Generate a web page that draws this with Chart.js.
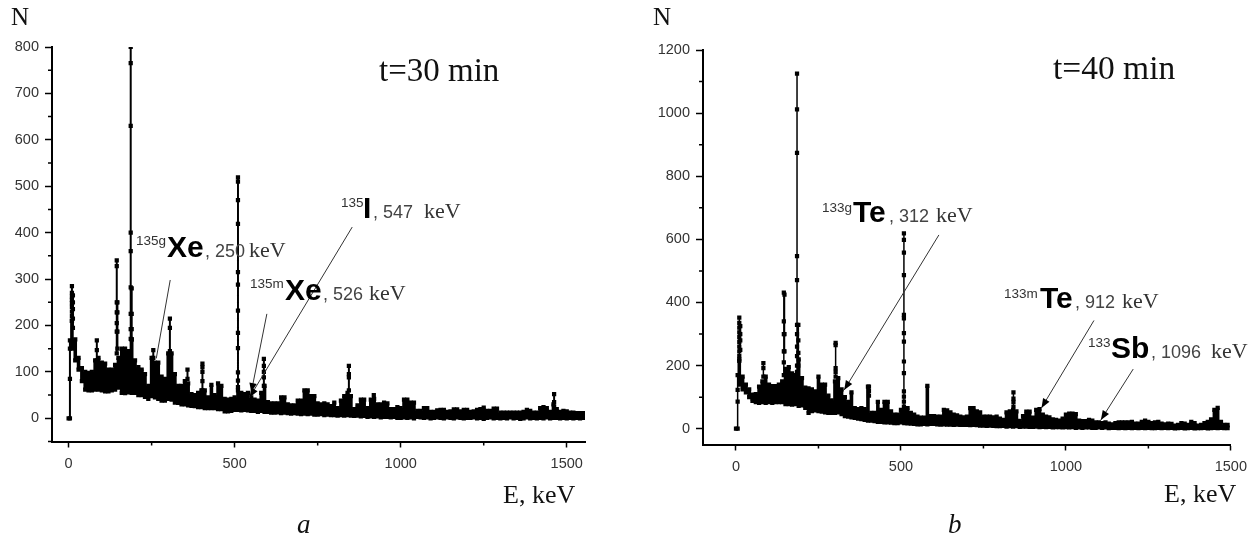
<!DOCTYPE html>
<html>
<head>
<meta charset="utf-8">
<title>Gamma spectra</title>
<script src="https://cdn.jsdelivr.net/npm/chart.js@4"></script>
<style>
  html, body { margin: 0; padding: 0; background: #fff; }
  canvas { position: absolute; top: 0; }
  #panelA { left: 0; }
  #panelB { left: 627px; }
</style>
</head>
<body>
<canvas id="panelA" width="627" height="539"></canvas>
<canvas id="panelB" width="628" height="539"></canvas>
<script>
// Energy of each column in the dense background of the spectra, keV
const bandEnergies = [
  10, 20, 30, 40, 50, 60, 70, 80, 90, 100,
  110, 120, 130, 140, 150, 160, 170, 180, 190, 200,
  210, 220, 230, 240, 250, 260, 270, 280, 290, 300,
  310, 320, 330, 340, 350, 360, 370, 380, 390, 400,
  410, 420, 430, 440, 450, 460, 470, 480, 490, 500,
  510, 520, 530, 540, 550, 560, 570, 580, 590, 600,
  610, 620, 630, 640, 650, 660, 670, 680, 690, 700,
  710, 720, 730, 740, 750, 760, 770, 780, 790, 800,
  810, 820, 830, 840, 850, 860, 870, 880, 890, 900,
  910, 920, 930, 940, 950, 960, 970, 980, 990, 1000,
  1010, 1020, 1030, 1040, 1050, 1060, 1070, 1080, 1090, 1100,
  1110, 1120, 1130, 1140, 1150, 1160, 1170, 1180, 1190, 1200,
  1210, 1220, 1230, 1240, 1250, 1260, 1270, 1280, 1290, 1300,
  1310, 1320, 1330, 1340, 1350, 1360, 1370, 1380, 1390, 1400,
  1410, 1420, 1430, 1440, 1450, 1460, 1470, 1480, 1490, 1500,
  1510, 1520, 1530, 1540, 1550
];

// Axis tick labels
const xTickValues = [0, 500, 1000, 1500];
const yTickValuesA = [0, 100, 200, 300, 400, 500, 600, 700, 800];
const yTickValuesB = [0, 200, 400, 600, 800, 1000, 1200];

// Panel a: top and bottom of the background per column
const bandHighA = [
  210, 170, 130, 108, 100, 98, 100, 125, 130, 120,
  118, 105, 105, 115, 130, 150, 150, 145, 170, 125,
  110, 105, 95, 70, 130, 120, 120, 90, 85, 140,
  140, 95, 70, 70, 80, 75, 52, 50, 55, 60,
  60, 45, 72, 50, 75, 70, 42, 40, 42, 45,
  60, 55, 52, 55, 45, 40, 38, 55, 70, 35,
  32, 32, 32, 45, 45, 30, 28, 28, 38, 38,
  60, 60, 48, 48, 32, 30, 32, 30, 26, 34,
  22, 38, 48, 55, 48, 20, 28, 40, 40, 22,
  40, 42, 30, 30, 34, 32, 20, 20, 24, 22,
  40, 40, 34, 34, 16, 16, 22, 22, 14, 14,
  17, 18, 18, 14, 15, 19, 19, 15, 18, 18,
  14, 15, 18, 20, 23, 16, 16, 21, 21, 12,
  12, 12, 12, 12, 12, 12, 14, 18, 16, 12,
  12, 22, 24, 22, 14, 30, 20, 14, 16, 15,
  12, 12, 11, 11, 11
];
const bandLowA = [
  150, 125, 105, 80, 62, 60, 60, 62, 62, 60,
  58, 58, 60, 62, 66, 55, 54, 56, 55, 55,
  50, 50, 46, 42, 48, 45, 42, 38, 38, 42,
  40, 34, 33, 30, 30, 28, 27, 26, 24, 24,
  22, 22, 22, 22, 20, 20, 15, 15, 16, 18,
  18, 17, 18, 17, 16, 16, 14, 16, 14, 14,
  12, 12, 13, 11, 12, 11, 10, 11, 10, 9,
  10, 9, 10, 8, 8, 9, 7, 8, 7, 7,
  6, 7, 6, 7, 6, 5, 6, 4, 5, 3,
  4, 3, 4, 2, 3, 3, 2, 3, 1, 1,
  2, 1, 2, 0, 3, 2, 1, 2, 0, 1,
  2, 1, 0, 2, 1, 0, 2, 1, 0, 1,
  1, 2, 0, 1, -1, 1, 2, 0, 1, 0,
  1, 0, 2, 0, 1, -1, 0, 2, 0, 1,
  0, 1, 0, 2, 0, 1, 1, 0, 1, 0,
  1, 0, 1, 0, 1
];

// Panel a: peaks that stand out of the background
const peakEnergiesA = [0, 4, 10, 13, 85, 145, 147, 187, 190, 255, 305, 358, 403, 510, 588, 844, 919, 1462];
const peakCountsA = [
  [0],
  [0, 85, 150, 168],
  [285, 270, 262, 255, 248, 240, 230, 220, 210],
  [265, 250, 235, 215, 195],
  [168, 147, 125],
  [340, 328, 250, 228, 205, 187, 140],
  [250, 228, 187, 150],
  [800, 765, 630, 400, 360, 282, 225, 192, 171, 135, 117],
  [280, 225, 192, 170],
  [147, 130, 110],
  [215, 195, 145, 140, 120],
  [105, 85],
  [118, 110, 100, 80, 60],
  [519, 510, 470, 419, 315, 288, 232, 184, 151, 99, 81, 67],
  [128, 113, 100, 88, 70],
  [113, 95, 88, 60],
  [50, 38],
  [52, 35, 25]
];

// Panel b: top and bottom of the background per column
const bandHighB = [
  220, 165, 140, 125, 108, 110, 133, 150, 165, 140,
  135, 135, 140, 150, 190, 195, 175, 170, 220, 160,
  130, 128, 125, 118, 165, 140, 140, 105, 90, 150,
  160, 125, 100, 85, 115, 65, 62, 65, 62, 133,
  50, 50, 85, 60, 85, 85, 55, 45, 45, 60,
  65, 65, 50, 45, 38, 35, 35, 136, 40, 40,
  38, 38, 60, 58, 52, 45, 42, 38, 36, 38,
  65, 65, 55, 52, 38, 38, 38, 36, 38, 32,
  28, 52, 55, 60, 55, 25, 40, 54, 54, 35,
  60, 62, 45, 38, 36, 30, 28, 26, 32, 45,
  48, 48, 46, 26, 24, 24, 28, 26, 20, 20,
  18, 20, 16, 14, 18, 20, 20, 20, 20, 22,
  16, 16, 22, 26, 22, 18, 20, 22, 16, 14,
  16, 15, 10, 12, 18, 16, 12, 22, 18, 10,
  12, 18, 22, 30, 60, 66, 22, 12, 12
];
const bandLowB = [
  140, 125, 115, 100, 88, 84, 82, 84, 82, 84,
  82, 84, 84, 84, 78, 78, 76, 78, 72, 74,
  66, 50, 56, 58, 56, 54, 52, 50, 50, 50,
  52, 46, 40, 38, 36, 34, 32, 30, 28, 26,
  26, 24, 22, 22, 20, 20, 19, 18, 18, 20,
  18, 17, 16, 15, 14, 14, 15, 14, 15, 15,
  14, 13, 14, 13, 13, 12, 13, 12, 12, 12,
  11, 12, 11, 10, 10, 9, 10, 9, 8, 8,
  9, 7, 8, 7, 8, 6, 7, 7, 6, 6,
  7, 5, 6, 5, 6, 4, 5, 5, 4, 5,
  4, 5, 3, 4, 3, 4, 4, 3, 3, 4,
  3, 4, 2, 3, 3, 2, 3, 2, 3, 2,
  3, 2, 3, 2, 3, 2, 2, 3, 2, 3,
  2, 3, 1, 2, 3, 1, 2, 3, 1, 2,
  2, 3, 1, 2, 3, 2, 3, 2, 2
];

// Panel b: peaks that stand out of the background
const peakEnergiesB = [0, 5, 10, 13, 83, 145, 147, 185, 189, 302, 403, 509, 841];
const peakCountsB = [
  [0],
  [0, 86, 123, 170],
  [352, 335, 320, 305, 290, 275, 260, 245, 230, 215],
  [325, 300, 280, 250],
  [208, 192, 165],
  [431, 340, 300, 245, 210, 170],
  [425, 300, 245],
  [1125, 1012, 874, 547, 471, 329, 300, 260, 230, 200, 180],
  [329, 280, 240, 200],
  [272, 265, 192, 180, 165],
  [133, 120, 105],
  [619, 598, 558, 487, 361, 350, 303, 276, 213, 176, 118, 102, 86, 70],
  [115, 95, 85, 70]
];

// Leader lines in data units: from E, from N, to E, to N, arrow head
const leadersA = [
  [306, 298, 264, 129, false],
  [597, 225, 550, 56, true],
  [854, 412, 545, 45, true]
];
const leadersB = [
  [615, 614, 328, 123, true],
  [1085, 343, 926, 66, true],
  [1204, 189, 1106, 28, true]
];

const SANS = '"Liberation Sans", Arial, sans-serif';
const SERIF = '"Liberation Serif", "Times New Roman", serif';

// Text on the page: text, font, page x, page baseline, colour
const labelsA = [
  ['N', `25px ${SERIF}`, 11, 25, '#111'],
  ['t=30 min', `33px ${SERIF}`, 379, 81, '#111'],
  ['E, keV', `26px ${SERIF}`, 503, 503, '#111'],
  ['a', `italic 27px ${SERIF}`, 297, 533, '#111'],
  ['135g', `13.5px ${SANS}`, 136, 245, '#333'],
  ['Xe', `bold 30px ${SANS}`, 167, 257, '#000'],
  [', 250', `18px ${SANS}`, 205, 257, '#444'],
  ['keV', `22px ${SERIF}`, 249, 257, '#333'],
  ['135m', `13.5px ${SANS}`, 250, 288, '#333'],
  ['Xe', `bold 30px ${SANS}`, 285, 300, '#000'],
  [', 526', `18px ${SANS}`, 323, 300, '#444'],
  ['keV', `22px ${SERIF}`, 369, 300, '#333'],
  ['135', `13.5px ${SANS}`, 341, 207, '#333'],
  ['I', `bold 30px ${SANS}`, 363, 218, '#000'],
  [', 547', `18px ${SANS}`, 373, 218, '#444'],
  ['keV', `22px ${SERIF}`, 424, 218, '#333']
];
const labelsB = [
  ['N', `25px ${SERIF}`, 653, 25, '#111'],
  ['t=40 min', `33.5px ${SERIF}`, 1053, 79, '#111'],
  ['E, keV', `26px ${SERIF}`, 1164, 502, '#111'],
  ['b', `italic 27px ${SERIF}`, 948, 533, '#111'],
  ['133g', `13.5px ${SANS}`, 822, 212, '#333'],
  ['Te', `bold 30px ${SANS}`, 853, 222, '#000'],
  [', 312', `18px ${SANS}`, 889, 222, '#444'],
  ['keV', `22px ${SERIF}`, 936, 222, '#333'],
  ['133m', `13.5px ${SANS}`, 1004, 298, '#333'],
  ['Te', `bold 30px ${SANS}`, 1040, 308, '#000'],
  [', 912', `18px ${SANS}`, 1075, 308, '#444'],
  ['keV', `22px ${SERIF}`, 1122, 308, '#333'],
  ['133', `13.5px ${SANS}`, 1088, 347, '#333'],
  ['Sb', `bold 30px ${SANS}`, 1111, 358, '#000'],
  [', 1096', `18px ${SANS}`, 1151, 358, '#444'],
  ['keV', `22px ${SERIF}`, 1211, 358, '#333']
];

// Each column is its own low-high segment, wide enough to touch the next one,
// so the background reads as solid black with a blocky top edge
function bandPoints(high, low) {
  const points = [];
  high.forEach((top, i) => {
    points.push({ x: bandEnergies[i], y: low[i] });
    points.push({ x: bandEnergies[i], y: top });
    points.push({ x: bandEnergies[i], y: null });
  });
  return points;
}

function peakPoints(energies, counts) {
  const points = [];
  energies.forEach((energy, i) => {
    counts[i].forEach(n => points.push({ x: energy, y: n }));
    points.push({ x: energy, y: null });
  });
  return points;
}

// Minor ticks, leader lines and free text for one panel
const overlayPlugin = {
  id: 'overlay',
  afterDatasetsDraw(chart, args, opts) {
    const { ctx, scales: { x, y }, chartArea } = chart;
    ctx.save();
    ctx.strokeStyle = '#000';
    ctx.lineWidth = 1.5;
    ctx.beginPath();
    for (let v = Math.ceil(x.min / opts.minorX) * opts.minorX; v <= x.max; v += opts.minorX) {
      if (v % opts.majorX === 0) continue;
      const px = x.getPixelForValue(v);
      ctx.moveTo(px, chartArea.bottom);
      ctx.lineTo(px, chartArea.bottom + 4);
    }
    for (let v = Math.ceil(y.min / opts.minorY) * opts.minorY; v <= y.max; v += opts.minorY) {
      if (v % opts.majorY === 0) continue;
      const py = y.getPixelForValue(v);
      ctx.moveTo(chartArea.left, py);
      ctx.lineTo(chartArea.left - 4, py);
    }
    ctx.stroke();

    opts.leaders.forEach(([e1, n1, e2, n2, head]) => {
      const x1 = x.getPixelForValue(e1), y1 = y.getPixelForValue(n1);
      const x2 = x.getPixelForValue(e2), y2 = y.getPixelForValue(n2);
      ctx.strokeStyle = '#333';
      ctx.lineWidth = 1;
      ctx.beginPath();
      ctx.moveTo(x1, y1);
      ctx.lineTo(x2, y2);
      ctx.stroke();
      if (head) {
        const angle = Math.atan2(y2 - y1, x2 - x1);
        ctx.fillStyle = '#000';
        ctx.beginPath();
        ctx.moveTo(x2, y2);
        ctx.lineTo(x2 - 10 * Math.cos(angle - 0.38), y2 - 10 * Math.sin(angle - 0.38));
        ctx.lineTo(x2 - 10 * Math.cos(angle + 0.38), y2 - 10 * Math.sin(angle + 0.38));
        ctx.closePath();
        ctx.fill();
      }
    });

    ctx.textAlign = 'left';
    ctx.textBaseline = 'alphabetic';
    opts.labels.forEach(([text, font, px, py, color]) => {
      ctx.font = font;
      ctx.fillStyle = color;
      ctx.fillText(text, px - opts.canvasLeft, py);
    });
    ctx.restore();
  }
};

function setTicks(values) {
  return scale => { scale.ticks = values.map(value => ({ value })); };
}

function createPanel(canvasId, config) {
  return new Chart(document.getElementById(canvasId).getContext('2d'), {
    type: 'line',
    data: {
      datasets: [
        {
          data: bandPoints(config.high, config.low),
          borderColor: '#000',
          borderWidth: 3.6,
          backgroundColor: '#000',
          pointStyle: 'rect',
          pointRadius: 3,
          pointBorderWidth: 0,
          spanGaps: false
        },
        {
          data: peakPoints(config.peakEnergies, config.peakCounts),
          borderColor: '#000',
          borderWidth: config.peakWidth,
          backgroundColor: '#000',
          pointStyle: 'rect',
          pointRadius: 3,
          pointBorderWidth: 0,
          spanGaps: false
        }
      ]
    },
    options: {
      responsive: false,
      animation: false,
      devicePixelRatio: 1,
      layout: { padding: config.padding },
      plugins: {
        legend: { display: false },
        tooltip: { enabled: false },
        overlay: {
          leaders: config.leaders,
          labels: config.labels,
          canvasLeft: config.canvasLeft,
          minorX: 250,
          majorX: 500,
          minorY: config.minorY,
          majorY: config.majorY
        }
      },
      scales: {
        x: {
          type: 'linear',
          min: config.xMin,
          max: config.xMax,
          afterBuildTicks: setTicks(xTickValues),
          afterFit(scale) { scale.height = config.xAxisHeight; },
          border: { display: true, color: '#000', width: 2 },
          grid: { display: true, drawOnChartArea: false, tickLength: 6, tickColor: '#000', tickWidth: 1.5 },
          ticks: {
            autoSkip: false,
            maxRotation: 0,
            padding: 8,
            color: '#333',
            font: { family: 'Liberation Sans', size: 14.5 },
            callback: value => String(value)
          }
        },
        y: {
          type: 'linear',
          min: -50,
          max: config.yMax,
          afterBuildTicks: setTicks(config.yTicks),
          afterFit(scale) { scale.width = config.yAxisWidth; },
          border: { display: true, color: '#000', width: 2 },
          grid: { display: true, drawOnChartArea: false, tickLength: 7, tickColor: '#000', tickWidth: 1.5 },
          ticks: {
            autoSkip: false,
            padding: 6,
            color: '#333',
            font: { family: 'Liberation Sans', size: 14.5 },
            callback: value => String(value)
          }
        }
      }
    },
    plugins: [overlayPlugin]
  });
}

createPanel('panelA', {
  high: bandHighA, low: bandLowA,
  peakEnergies: peakEnergiesA, peakCounts: peakCountsA,
  leaders: leadersA, labels: labelsA,
  canvasLeft: 0,
  padding: { left: 0, right: 42, top: 47, bottom: 0 },
  xAxisHeight: 97.5, yAxisWidth: 52,
  xMin: -50, xMax: 1555, yMax: 800, yTicks: yTickValuesA,
  majorY: 100, minorY: 50, peakWidth: 2
});

createPanel('panelB', {
  high: bandHighB, low: bandLowB,
  peakEnergies: peakEnergiesB, peakCounts: peakCountsB,
  leaders: leadersB, labels: labelsB,
  canvasLeft: 627,
  padding: { left: 0, right: 23, top: 50, bottom: 0 },
  xAxisHeight: 94.5, yAxisWidth: 76,
  xMin: -100, xMax: 1500, yMax: 1200, yTicks: yTickValuesB,
  majorY: 200, minorY: 100, peakWidth: 1.5
});
</script>
</body>
</html>
